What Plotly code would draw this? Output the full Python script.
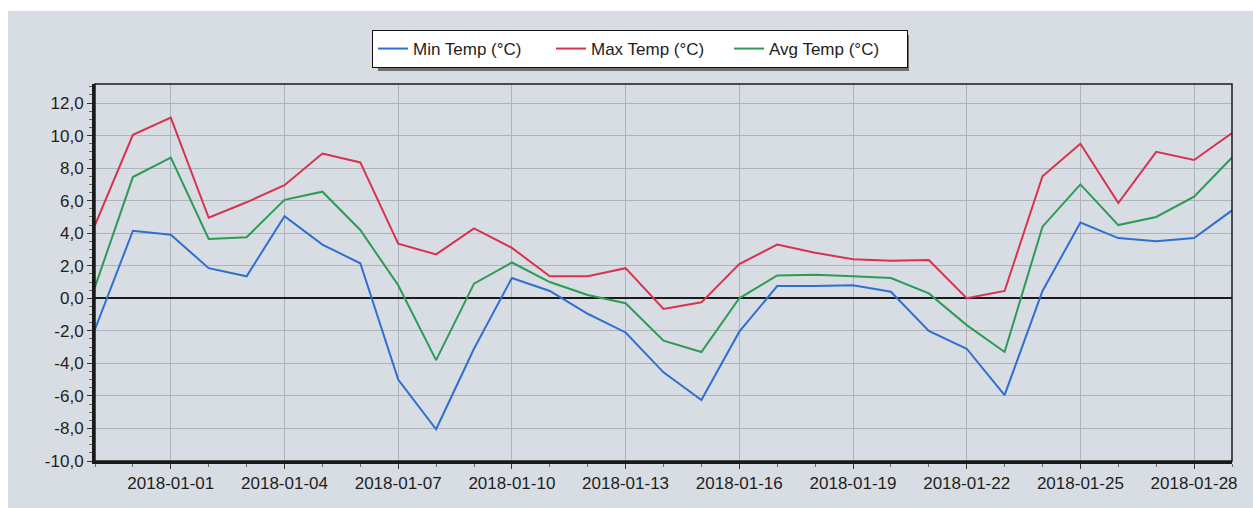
import plotly.graph_objects as go

dates = [
    "2017-12-30", "2017-12-31", "2018-01-01", "2018-01-02", "2018-01-03",
    "2018-01-04", "2018-01-05", "2018-01-06", "2018-01-07", "2018-01-08",
    "2018-01-09", "2018-01-10", "2018-01-11", "2018-01-12", "2018-01-13",
    "2018-01-14", "2018-01-15", "2018-01-16", "2018-01-17", "2018-01-18",
    "2018-01-19", "2018-01-20", "2018-01-21", "2018-01-22", "2018-01-23",
    "2018-01-24", "2018-01-25", "2018-01-26", "2018-01-27", "2018-01-28",
    "2018-01-29",
]

min_temp = [-1.9, 4.15, 3.9, 1.85, 1.35, 5.05, 3.3, 2.15, -5.0, -8.05,
            -3.1, 1.25, 0.45, -0.95, -2.1, -4.55, -6.25, -2.05, 0.75, 0.75,
            0.8, 0.4, -2.0, -3.1, -5.95, 0.45, 4.65, 3.7, 3.5, 3.7, 5.4]

max_temp = [4.5, 10.05, 11.1, 4.95, 5.9, 6.95, 8.9, 8.35, 3.35, 2.7,
            4.3, 3.1, 1.35, 1.35, 1.85, -0.65, -0.25, 2.1, 3.3, 2.8,
            2.4, 2.3, 2.35, 0.0, 0.45, 7.5, 9.5, 5.85, 9.0, 8.5, 10.15]

avg_temp = [0.7, 7.45, 8.65, 3.65, 3.75, 6.05, 6.55, 4.2, 0.8, -3.8,
            0.9, 2.2, 1.0, 0.2, -0.3, -2.6, -3.3, 0.0, 1.4, 1.45,
            1.35, 1.25, 0.3, -1.65, -3.3, 4.4, 7.0, 4.5, 5.0, 6.25, 8.65]

series_names = ["Min Temp (°C)", "Max Temp (°C)", "Avg Temp (°C)"]

y_tick_vals = [-10, -8, -6, -4, -2, 0, 2, 4, 6, 8, 10, 12]
y_tick_labels = ["-10,0", "-8,0", "-6,0", "-4,0", "-2,0", "0,0",
                 "2,0", "4,0", "6,0", "8,0", "10,0", "12,0"]

colors = ["#2f6fd1", "#d7334e", "#2e9a55"]
panel = "#d7dde3"
grid = "#acb3ba"
font_family = "Liberation Sans, Arial, sans-serif"

fig = go.Figure()
for name, vals, col in zip(series_names, [min_temp, max_temp, avg_temp], colors):
    fig.add_trace(go.Scatter(x=dates, y=vals, mode="lines", name=name,
                             line=dict(color=col, width=2)))

W, H = 1253, 508
ml, mr, mt, mb = 95, 21, 84, 47
pw, ph = W - ml - mr, H - mt - mb


def px_x(p):
    return (p - ml) / pw


def px_y(p):
    return (H - mb - p) / ph


shapes = [
    # grey panel behind the chart
    dict(type="rect", xref="paper", yref="paper",
         x0=px_x(8), x1=px_x(W + 5), y0=px_y(H + 5), y1=px_y(11),
         fillcolor=panel, line=dict(width=0), layer="below"),
    # thin top/right frame
    dict(type="rect", xref="paper", yref="paper", x0=0, x1=1, y0=0, y1=1,
         line=dict(color="#1a1a1a", width=1.5), layer="above"),
    # legend shadow
    dict(type="rect", xref="paper", yref="paper",
         x0=px_x(378), x1=px_x(909), y0=px_y(71), y1=px_y(35),
         fillcolor="#707070", line=dict(width=0), layer="below"),
]

fig.update_layout(
    width=W, height=H,
    margin=dict(l=ml, r=mr, t=mt, b=mb),
    paper_bgcolor="white",
    plot_bgcolor=panel,
    font=dict(family=font_family, size=17, color="#1e1e1e"),
    showlegend=True,
    legend=dict(orientation="h", xref="container", yref="container",
                x=640 / W, xanchor="center", y=1 - 30 / H, yanchor="top",
                bgcolor="white", bordercolor="#111111", borderwidth=1,
                font=dict(size=17, color="#1e1e1e"),
                itemwidth=30, tracegroupgap=0, entrywidth=133),
    shapes=shapes,
    xaxis=dict(
        type="date",
        range=["2017-12-30", "2018-01-29"],
        tick0="2018-01-01", dtick=3 * 86400000,
        tickformat="%Y-%m-%d",
        showgrid=True, gridcolor=grid, gridwidth=1,
        showline=True, linecolor="#1a1a1a", linewidth=3,
        ticks="outside", ticklen=5, tickcolor="#333333",
        tickfont=dict(size=17, color="#1e1e1e"),
        minor=dict(dtick=86400000, tick0="2018-01-01", ticks="outside",
                   ticklen=3, tickcolor="#666666", showgrid=False),
        zeroline=False, fixedrange=True,
    ),
    yaxis=dict(
        range=[-10, 13.17],
        tickmode="array", tickvals=y_tick_vals, ticktext=y_tick_labels,
        showgrid=True, gridcolor=grid, gridwidth=1,
        showline=True, linecolor="#1a1a1a", linewidth=3,
        ticks="outside", ticklen=5, tickcolor="#333333",
        tickfont=dict(size=17, color="#1e1e1e"),
        minor=dict(dtick=0.5, ticks="outside", ticklen=3,
                   tickcolor="#666666", showgrid=False),
        zeroline=True, zerolinecolor="#1a1a1a", zerolinewidth=1.5,
        fixedrange=True,
    ),
)

fig.write_html("out.html",
               config={"displayModeBar": False},
               post_script="document.body.style.margin='0';")
